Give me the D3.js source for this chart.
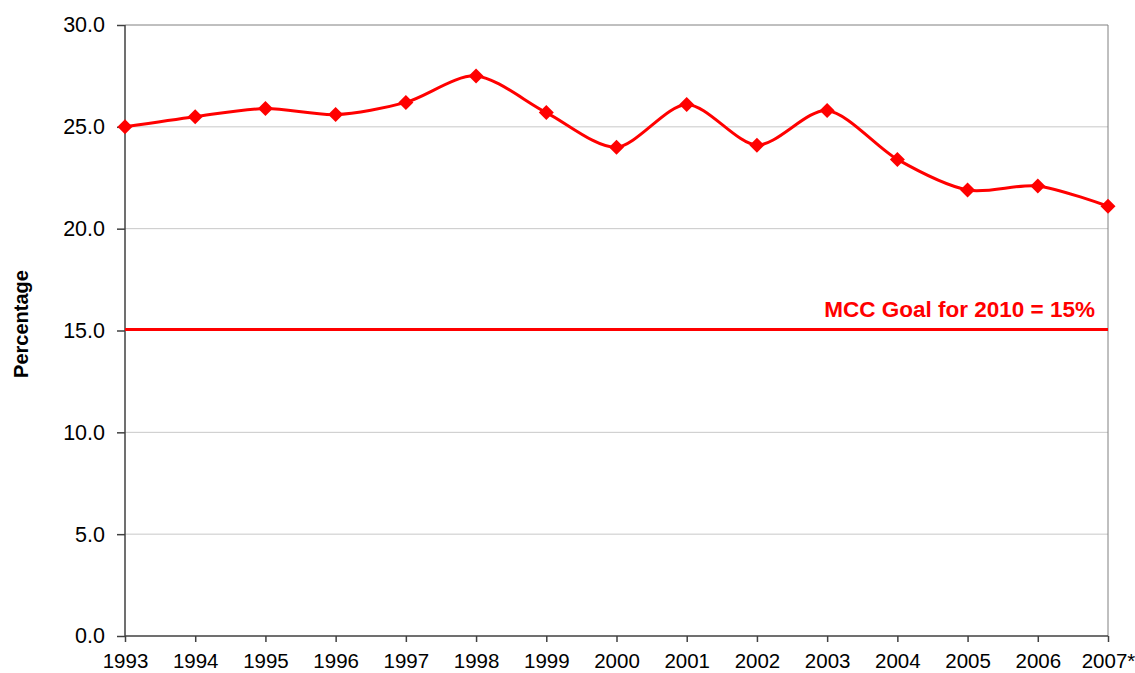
<!DOCTYPE html>
<html>
<head>
<meta charset="utf-8">
<script src="https://cdn.jsdelivr.net/npm/d3@7"></script>
<style>
  body { margin: 0; background: #fff; }
  svg text { font-family: "Liberation Sans", Arial, sans-serif; }
</style>
</head>
<body>
<div id="chart"></div>
<script>
// data
var years = ["1993","1994","1995","1996","1997","1998","1999","2000","2001","2002","2003","2004","2005","2006","2007*"];
var percentages = [25.0, 25.5, 25.9, 25.6, 26.2, 27.5, 25.7, 24.0, 26.1, 24.1, 25.8, 23.4, 21.9, 22.1, 21.1];
var yTicks = [0, 5, 10, 15, 20, 25, 30];
var goalValue = 15;
var goalLabel = "MCC Goal for 2010 = 15%";

var width = 1135, height = 673;
var margin = { top: 25, right: 27, bottom: 37, left: 125 };

var svg = d3.select("#chart")
	.append("svg")
	.attr("width", width)
	.attr("height", height);

var x = d3.scalePoint()
	.domain(years)
	.range([margin.left, width - margin.right]);

var y = d3.scaleLinear()
	.domain([0, 30])
	.range([height - margin.bottom, margin.top]);

// gridlines
svg.append("g")
	.selectAll("line")
	.data(yTicks.filter(function(d) { return d > 0; }))
	.enter()
	.append("line")
	.attr("x1", margin.left)
	.attr("x2", width - margin.right)
	.attr("y1", function(d) { return y(d); })
	.attr("y2", function(d) { return y(d); })
	.attr("stroke", function(d) { return d == 30 ? "#808080" : "#c8c8c8"; })
	.attr("stroke-width", 1);

// right border of plot area
svg.append("line")
	.attr("x1", width - margin.right).attr("x2", width - margin.right)
	.attr("y1", margin.top).attr("y2", height - margin.bottom)
	.attr("stroke", "#808080");

// y axis
var yAxis = svg.append("g")
	.attr("transform", "translate(" + margin.left + ",0)")
	.call(d3.axisLeft(y).tickValues(yTicks).tickSize(8).tickPadding(12).tickFormat(d3.format(".1f")));
yAxis.selectAll("line, path").attr("stroke", "#404040").attr("stroke-width", 1.5);
yAxis.select(".domain").attr("d", "M0," + y(30) + "V" + y(0));
yAxis.selectAll("text").attr("font-size", 21.5).attr("fill", "#000")
	.style("font-family", "Liberation Sans, Arial, sans-serif");

// x axis
var xAxis = svg.append("g")
	.attr("transform", "translate(0," + y(0) + ")")
	.call(d3.axisBottom(x).tickSize(6).tickPadding(11));
xAxis.selectAll("line, path").attr("stroke", "#404040").attr("stroke-width", 1.5);
xAxis.select(".domain").attr("d", "M" + margin.left + ",0H" + (width - margin.right));
xAxis.selectAll("text").attr("font-size", 20.5).attr("fill", "#000")
	.style("font-family", "Liberation Sans, Arial, sans-serif");

// y axis title
svg.append("text")
	.attr("transform", "translate(28,324) rotate(-90)")
	.attr("text-anchor", "middle")
	.attr("font-size", 20)
	.attr("font-weight", "bold")
	.attr("fill", "#000")
	.text("Percentage");

// goal line
svg.append("line")
	.attr("x1", margin.left)
	.attr("x2", width - margin.right)
	.attr("y1", y(goalValue) - 1)
	.attr("y2", y(goalValue) - 1)
	.attr("stroke", "#ff0000")
	.attr("stroke-width", 3);

svg.append("text")
	.attr("x", width - margin.right - 13)
	.attr("y", y(goalValue) - 14)
	.attr("text-anchor", "end")
	.attr("font-size", 22.5)
	.attr("font-weight", "bold")
	.attr("fill", "#ff0000")
	.text(goalLabel);

// smoothed data line
var line = d3.line()
	.x(function(d, i) { return x(years[i]); })
	.y(function(d) { return y(d); })
	.curve(d3.curveCardinal.tension(0.15));

svg.append("path")
	.datum(percentages)
	.attr("d", line)
	.attr("fill", "none")
	.attr("stroke", "#ff0000")
	.attr("stroke-width", 3);

// diamond markers
svg.append("g")
	.selectAll("path")
	.data(percentages)
	.enter()
	.append("path")
	.attr("transform", function(d, i) { return "translate(" + x(years[i]) + "," + y(d) + ")"; })
	.attr("d", "M0,-7.5L7.5,0L0,7.5L-7.5,0Z")
	.attr("fill", "#ff0000");
</script>
</body>
</html>
